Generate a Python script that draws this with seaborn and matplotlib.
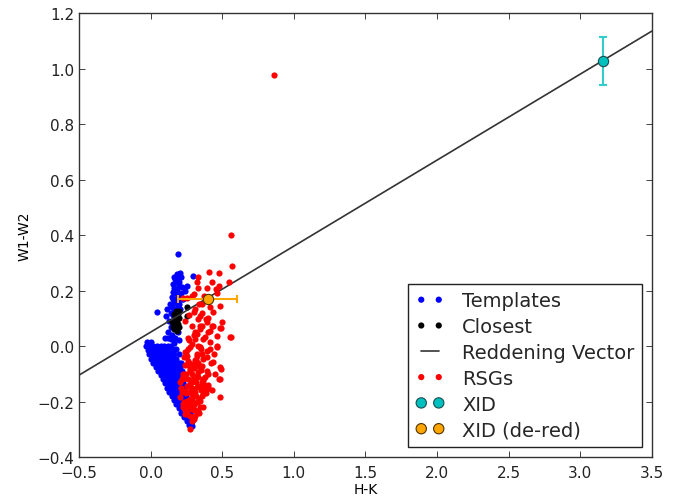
import seaborn as sns
import matplotlib.pyplot as plt
import numpy as np
import pandas as pd

# templates (blue) - H-K, W1-W2
tmpl_hk = [
    -0.025, 0.0, 0.10, 0.12, 0.14,
    -0.03, -0.005, 0.02, 0.045, 0.07, 0.095, 0.12, 0.145,
    -0.02, 0.005, 0.03, 0.055, 0.08, 0.105, 0.13, 0.155,
    -0.01, 0.015, 0.04, 0.065, 0.09, 0.115, 0.14, 0.165,
    0.005, 0.03, 0.055, 0.08, 0.105, 0.13, 0.155, 0.18,
    0.02, 0.045, 0.07, 0.095, 0.12, 0.145, 0.175, 0.20,
    0.035, 0.06, 0.085, 0.11, 0.135, 0.16, 0.185, 0.205,
    0.05, 0.075, 0.10, 0.125, 0.15, 0.175, 0.20,
    0.07, 0.095, 0.12, 0.145, 0.175, 0.20, 0.22,
    0.085, 0.11, 0.135, 0.16, 0.185, 0.21,
    0.10, 0.125, 0.15, 0.175, 0.20, 0.225,
    0.115, 0.14, 0.165, 0.19, 0.215, 0.235,
    0.13, 0.155, 0.18, 0.205, 0.225, 0.245,
    0.15, 0.17, 0.195, 0.22, 0.245,
    0.165, 0.185, 0.21, 0.235, 0.255,
    0.18, 0.20, 0.225, 0.245, 0.265,
    0.195, 0.215, 0.24, 0.26,
    0.215, 0.235, 0.255, 0.275,
    0.235, 0.255, 0.275,
    0.255, 0.275, 0.29,
    0.27, 0.285, 0.287, 0.263,
    # area above the band
    0.12, 0.14, 0.13, 0.15, 0.17, 0.19, 0.20, 0.16, 0.18, 0.20, 0.21, 0.22, 0.14,
    # upper ridge
    0.182, 0.205, 0.17, 0.158, 0.20, 0.182, 0.217, 0.154, 0.193, 0.158,
    0.135, 0.182, 0.147, 0.193, 0.24, 0.256, 0.223, 0.112,
    0.16, 0.19, 0.175, 0.165, 0.195, 0.17, 0.185, 0.15, 0.16, 0.20,
    0.165, 0.14, 0.155, 0.21, 0.22, 0.205, 0.20, 0.21,
    # isolated
    0.042, 0.107, 0.189, 0.298,
]
tmpl_w12 = [
    0.015, 0.015, 0.03, 0.03, 0.025,
    0.0, 0.0, 0.0, 0.0, 0.0, 0.0, 0.0, 0.0,
    -0.015, -0.015, -0.015, -0.015, -0.015, -0.015, -0.015, -0.015,
    -0.03, -0.03, -0.03, -0.03, -0.03, -0.03, -0.03, -0.03,
    -0.045, -0.045, -0.045, -0.045, -0.045, -0.045, -0.045, -0.045,
    -0.06, -0.06, -0.06, -0.06, -0.06, -0.06, -0.06, -0.06,
    -0.075, -0.075, -0.075, -0.075, -0.075, -0.075, -0.075, -0.075,
    -0.09, -0.09, -0.09, -0.09, -0.09, -0.09, -0.09,
    -0.105, -0.105, -0.105, -0.105, -0.105, -0.105, -0.105,
    -0.12, -0.12, -0.12, -0.12, -0.12, -0.12,
    -0.135, -0.135, -0.135, -0.135, -0.135, -0.135,
    -0.15, -0.15, -0.15, -0.15, -0.15, -0.15,
    -0.165, -0.165, -0.165, -0.165, -0.165, -0.165,
    -0.18, -0.18, -0.18, -0.18, -0.18,
    -0.195, -0.195, -0.195, -0.195, -0.195,
    -0.21, -0.21, -0.21, -0.21, -0.21,
    -0.225, -0.225, -0.225, -0.225,
    -0.24, -0.24, -0.24, -0.24,
    -0.255, -0.255, -0.255,
    -0.27, -0.27, -0.27,
    -0.285, -0.285, -0.289, -0.263,
    0.05, 0.07, 0.09, 0.04, 0.03, 0.05, 0.02, 0.01, -0.01, -0.03, -0.06, -0.09, 0.03,
    0.259, 0.263, 0.241, 0.223, 0.23, 0.205, 0.211, 0.194, 0.184, 0.169,
    0.151, 0.157, 0.139, 0.139, 0.199, 0.217, 0.169, 0.133,
    0.25, 0.245, 0.23, 0.21, 0.215, 0.19, 0.17, 0.175, 0.155, 0.15,
    0.135, 0.12, 0.11, 0.19, 0.17, 0.135, 0.26, 0.25,
    0.124, 0.109, 0.332, 0.253,
]

# closest templates (black)
close_hk = [0.16, 0.17, 0.18, 0.165, 0.175, 0.19, 0.16, 0.17, 0.185, 0.20, 0.175,
            0.19, 0.165, 0.18, 0.195, 0.15, 0.147, 0.256, 0.256, 0.20, 0.185, 0.155]
close_w12 = [0.06, 0.07, 0.065, 0.08, 0.085, 0.08, 0.095, 0.10, 0.095, 0.10, 0.11,
             0.115, 0.115, 0.125, 0.125, 0.085, 0.091, 0.139, 0.107, 0.07, 0.055, 0.07]

# red supergiants (red)
rsg_hk = [
    0.561, 0.568, 0.41, 0.48, 0.333, 0.322, 0.426, 0.48, 0.545, 0.328, 0.391, 0.456,
    0.305, 0.465, 0.256, 0.287, 0.228, 0.357, 0.415, 0.484, 0.31, 0.357, 0.438,
    0.333, 0.387, 0.496, 0.357, 0.426,
    0.305, 0.345, 0.391, 0.438, 0.345, 0.491, 0.403, 0.322, 0.461, 0.561, 0.368,
    0.415, 0.287, 0.345, 0.461, 0.263, 0.391, 0.322, 0.368, 0.263, 0.438, 0.333,
    0.275, 0.391, 0.489, 0.228, 0.322, 0.368, 0.205, 0.275, 0.345, 0.403, 0.484,
    0.24, 0.31, 0.368, 0.205, 0.275, 0.345, 0.484, 0.228, 0.298, 0.368, 0.252,
    0.322, 0.275, 0.24, 0.303, 0.275,
    0.287, 0.345, 0.415, 0.484, 0.554, 0.31, 0.38, 0.275, 0.345, 0.415, 0.465,
    0.252, 0.322, 0.391, 0.298, 0.357, 0.484, 0.275, 0.333, 0.403, 0.228, 0.298,
    0.368, 0.48, 0.252, 0.322, 0.391, 0.217, 0.287, 0.357, 0.252, 0.322, 0.387,
    0.228, 0.287, 0.345, 0.252, 0.31, 0.287,
    0.25, 0.27, 0.30, 0.33, 0.36, 0.24, 0.29, 0.32, 0.26, 0.30, 0.34, 0.28,
    0.31, 0.35, 0.24, 0.27, 0.30, 0.25, 0.29, 0.33, 0.38, 0.42, 0.26, 0.31,
    0.23, 0.26, 0.29, 0.32, 0.35, 0.22, 0.25, 0.28, 0.31, 0.34, 0.37, 0.23,
    0.26, 0.29, 0.32, 0.35, 0.38, 0.24, 0.27, 0.30, 0.33, 0.36, 0.40, 0.44,
    0.21, 0.24, 0.27, 0.30, 0.33, 0.43, 0.45, 0.40, 0.37, 0.34, 0.24, 0.27,
    0.86,
]
rsg_w12 = [
    0.40, 0.289, 0.266, 0.262, 0.25, 0.23, 0.23, 0.217, 0.232, 0.208, 0.209, 0.205,
    0.187, 0.191, 0.172, 0.179, 0.172, 0.151, 0.139, 0.143, 0.133, 0.118, 0.124,
    0.097, 0.097, 0.085, 0.073, 0.071,
    0.121, 0.109, 0.085, 0.073, 0.073, 0.065, 0.049, 0.043, 0.037, 0.031, 0.025,
    0.013, 0.007, -0.005, -0.001, -0.011, -0.017, -0.029, -0.047, -0.053, -0.059, -0.071,
    -0.083, -0.089, -0.083, -0.101, -0.107, -0.119, -0.131, -0.137, -0.143, -0.149, -0.119,
    -0.161, -0.167, -0.173, -0.185, -0.191, -0.197, -0.185, -0.209, -0.215, -0.221, -0.233,
    -0.239, -0.251, -0.245, -0.263, -0.299,
    0.073, 0.061, 0.055, 0.065, 0.031, 0.025, 0.031, -0.005, -0.005, -0.011, -0.003,
    -0.035, -0.035, -0.041, -0.065, -0.071, -0.077, -0.089, -0.095, -0.101, -0.113, -0.119,
    -0.125, -0.119, -0.143, -0.149, -0.155, -0.167, -0.173, -0.179, -0.197, -0.203, -0.171,
    -0.221, -0.227, -0.221, -0.245, -0.251, -0.269,
    -0.02, -0.06, -0.08, -0.11, -0.13, -0.07, -0.15, -0.18, -0.12, -0.21, -0.24, -0.16,
    -0.05, -0.01, -0.23, -0.20, -0.23, -0.10, -0.19, -0.06, -0.16, -0.06, 0.03, 0.05,
    -0.04, -0.07, -0.10, -0.13, -0.16, -0.12, -0.17, -0.20, -0.23, -0.19, -0.14, -0.20,
    -0.22, -0.13, -0.05, -0.085, -0.11, -0.02, 0.02, 0.04, 0.0, -0.03, -0.14, -0.03,
    -0.15, -0.115, -0.165, -0.21, -0.235, -0.16, -0.10, 0.10, 0.18, 0.15, 0.09, 0.11,
    0.975,
]

# reddening vector end points
vec_hk = [-0.5, 3.5]
vec_w12 = [-0.105, 1.135]

# cross-identified source, observed and de-reddened
xid_hk, xid_w12, xid_err = [3.155], [1.027], [0.088]
dered_hk, dered_w12, dered_err = [0.398], [0.169], [0.205]

fig = plt.figure(figsize=(6.78, 5.02), dpi=100)
ax = fig.add_axes([0.1165, 0.0876, 0.8451, 0.8845])
sns.set_style("ticks")
plt.rcParams["font.family"] = ["DejaVu Sans"]

sns.scatterplot(x=tmpl_hk, y=tmpl_w12, color="blue", s=20, linewidth=0, label="Templates", ax=ax, zorder=2)
sns.scatterplot(x=close_hk, y=close_w12, color="black", s=20, linewidth=0, label="Closest", ax=ax, zorder=3)
sns.lineplot(x=vec_hk, y=vec_w12, color="#333333", linewidth=1.2, label="Reddening Vector", ax=ax, zorder=4)
sns.scatterplot(x=rsg_hk, y=rsg_w12, color="red", s=20, linewidth=0, label="RSGs", ax=ax, zorder=5)

ax.errorbar(xid_hk, xid_w12, yerr=xid_err, fmt="none", ecolor="#33cccc", elinewidth=1.5, capsize=3, capthick=1.5, zorder=6)
sns.scatterplot(x=xid_hk, y=xid_w12, color="#00bfbf", s=55, edgecolor="#1a4d4d", linewidth=0.8, label="XID", ax=ax, zorder=7)
ax.errorbar(dered_hk, dered_w12, xerr=dered_err, fmt="none", ecolor="orange", elinewidth=1.5, capsize=3, capthick=1.5, zorder=6)
sns.scatterplot(x=dered_hk, y=dered_w12, color="orange", s=55, edgecolor="#4d3300", linewidth=0.8, label="XID (de-red)", ax=ax, zorder=7)

ax.set_xlim(-0.5, 3.5)
ax.set_ylim(-0.4, 1.2)
ax.set_xticks(np.arange(-0.5, 3.51, 0.5))
ax.set_yticks(np.arange(-0.4, 1.21, 0.2))
ax.tick_params(direction="in", top=True, right=True, length=4, width=0.6, labelsize=11, colors="#222222")
ax.tick_params(axis="x", pad=6)
for sp in ax.spines.values():
    sp.set_color("#333333")
    sp.set_linewidth(1.0)
ax.set_xlabel("H-K", fontsize=10, labelpad=1)
ax.set_ylabel("W1-W2", fontsize=10)

leg = ax.legend(loc="lower right", fontsize=14, scatterpoints=2, scatteryoffsets=[0.5], numpoints=2,
                handlelength=1.5, handletextpad=0.9, labelspacing=0.35, borderpad=0.4,
                fancybox=False, framealpha=1, edgecolor="#222222")
leg.get_frame().set_linewidth(1.0)

plt.savefig("out.png", dpi=100)
